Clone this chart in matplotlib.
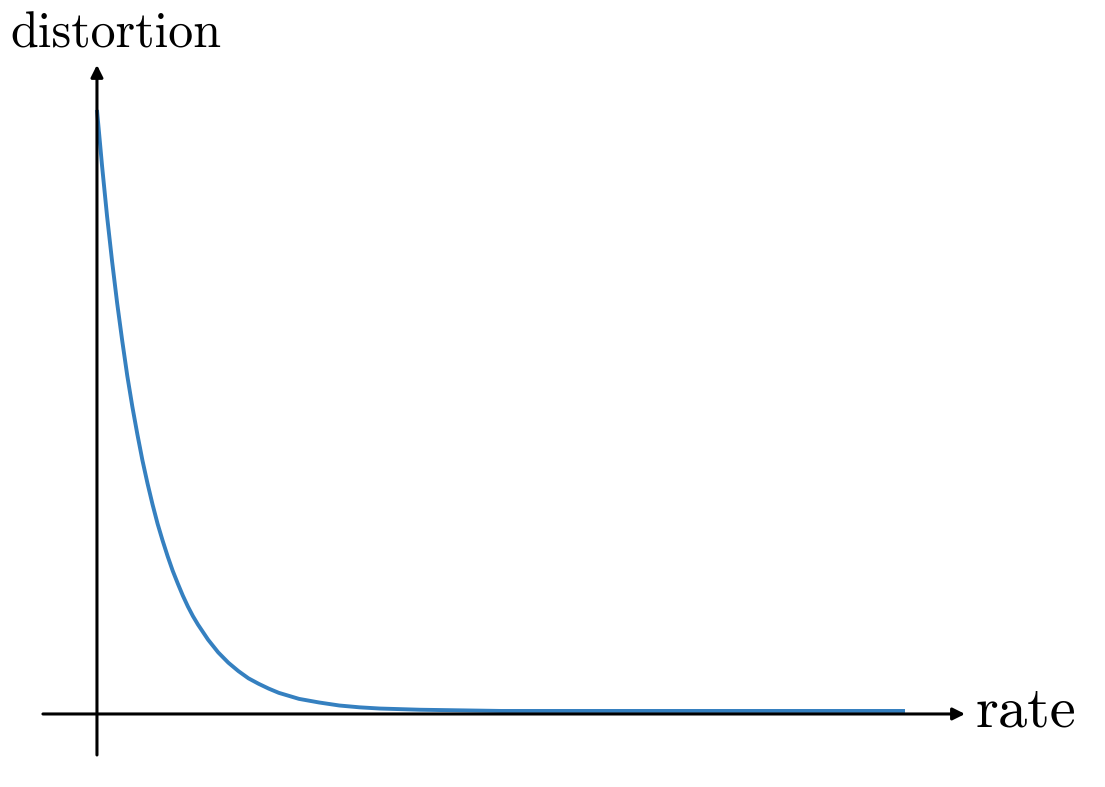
import numpy as np
import matplotlib.pyplot as plt

# rate-distortion curve, values
rate = [0.0, 0.05, 0.1, 0.15, 0.2, 0.25, 0.3, 0.35, 0.4, 0.45, 0.5, 0.55,
        0.6, 0.65, 0.7, 0.75, 0.8, 0.85, 0.9, 0.95, 1.0, 1.1, 1.2, 1.3,
        1.4, 1.5, 1.6, 1.7, 1.8, 1.9, 2.0, 2.2, 2.4, 2.6, 2.8, 3.2, 3.6,
        4.0, 5.0, 6.0, 7.0, 8.0]
distortion = [1.000, 0.908, 0.824, 0.749, 0.680, 0.618, 0.560, 0.509,
              0.463, 0.420, 0.382, 0.347, 0.315, 0.287, 0.261, 0.237,
              0.216, 0.196, 0.178, 0.162, 0.148, 0.123, 0.102, 0.085,
              0.071, 0.059, 0.050, 0.042, 0.035, 0.030, 0.025, 0.019,
              0.014, 0.011, 0.009, 0.007, 0.006, 0.005, 0.005, 0.005,
              0.005, 0.005]

fig = plt.figure(figsize=(11.05, 7.87), dpi=100)
ax = fig.add_axes([0, 0, 1, 1])
ax.set_xlim(-0.960, 9.980)
ax.set_ylim(-0.1209, 1.182)
ax.axis('off')

ax.plot(rate, distortion, color='#3580c0', lw=2.8, solid_capstyle='butt',
        solid_joinstyle='round')

# axes with arrow heads
arrow = dict(arrowstyle='-|>', color='black', lw=2.2, mutation_scale=18,
             shrinkA=0, shrinkB=0)
ax.annotate('', xy=(8.594, 0), xytext=(-0.535, 0), arrowprops=arrow)
ax.annotate('', xy=(0, 1.0745), xytext=(0, -0.0679), arrowprops=arrow)

ax.text(-0.861, 1.1026, 'distortion', fontfamily='cmr10', fontsize=36,
        ha='left', va='baseline')
ax.text(8.693, -0.0215, 'rate', fontfamily='cmr10', fontsize=42,
        ha='left', va='baseline')

fig.savefig('out.png', dpi=100)
